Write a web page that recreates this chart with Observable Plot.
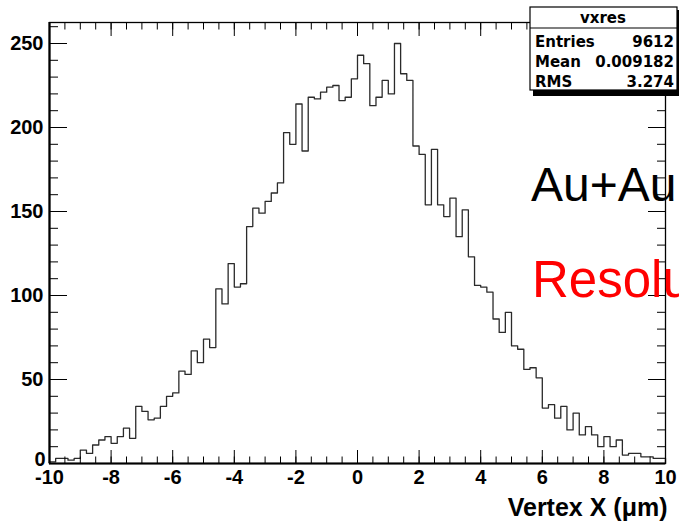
<!DOCTYPE html>
<html><head><meta charset="utf-8">
<script src="https://cdn.jsdelivr.net/npm/d3@7"></script>
<script src="https://cdn.jsdelivr.net/npm/@observablehq/plot@0.6"></script>
<style>body{margin:0;background:#fff} #chart{width:679px;height:525px;overflow:hidden}</style>
</head><body><div id="chart"></div>
<script>
// ---- data ----
const histName = "vxres";
const xMin = -10, xMax = 10, binWidth = 0.2;
const counts = [
  1,3,3,2,3,8,6,11,14,16,
  12,16,21,15,34,31,26,27,34,40,
  42,55,53,67,60,74,69,104,95,119,
  105,107,141,152,149,156,161,167,197,190,
  214,186,218,217,221,224,225,216,218,229,
  243,238,213,218,228,220,250,232,228,189,
  184,154,187,154,147,158,135,151,123,106,
  105,102,86,78,90,70,68,56,57,51,
  33,35,27,34,20,30,17,22,17,10,
  16,10,14,5,6,6,4,4,3,3
];
const xTicks = [-10,-8,-6,-4,-2,0,2,4,6,8,10];
const xMinorTicks = [-10,-9.5,-9,-8.5,-8,-7.5,-7,-6.5,-6,-5.5,-5,-4.5,-4,-3.5,-3,-2.5,-2,-1.5,-1,-0.5,0,0.5,1,1.5,2,2.5,3,3.5,4,4.5,5,5.5,6,6.5,7,7.5,8,8.5,9,9.5,10];
const yTicks = [0,50,100,150,200,250];
const yMinorTicks = [0,10,20,30,40,50,60,70,80,90,100,110,120,130,140,150,160,170,180,190,200,210,220,230,240,250,260];
const yMax = 262.5;
const xLabel = "Vertex X (\u03bcm)";
const statLabels = ["Entries", "Mean", "RMS"];
const statValues = ["9612", "0.009182", "3.274"];
const note1 = "Au+Au";
const note2 = "Resolution";

// outline points of the histogram
const pts = [{x: xMin, y: 0}]
  .concat(counts.map((c, i) => ({x: xMin + i * binWidth, y: c})))
  .concat([{x: xMax, y: counts[counts.length - 1]}, {x: xMax, y: 0}]);

const tickFont = {fontSize: 20, fontWeight: "bold", fill: "black", tickFormat: d => String(d)};

const plot = Plot.plot({
  width: 679, height: 525,
  marginLeft: 49, marginRight: 14, marginTop: 22, marginBottom: 62,
  x: {domain: [xMin, xMax]},
  y: {domain: [0, yMax]},
  style: {fontFamily: "'Liberation Sans', Arial, sans-serif", background: "white", color: "black"},
  marks: [
    Plot.line(pts, {x: "x", y: "y", curve: "step-after", stroke: "#2a2a2a", strokeWidth: 1.3}),
    Plot.frame({stroke: "black", strokeWidth: 1.3}),
    Plot.axisX({anchor: "bottom", ticks: xMinorTicks, tickSize: -6.5, fill: "none", label: null}),
    Plot.axisX({anchor: "bottom", ticks: xTicks, tickSize: -13, fill: "none", label: null}),
    Plot.axisX({anchor: "top", ticks: xMinorTicks, tickSize: -6.5, fill: "none", label: null}),
    Plot.axisX({anchor: "top", ticks: xTicks, tickSize: -13, fill: "none", label: null}),
    Plot.axisY({anchor: "left", ticks: yMinorTicks, tickSize: -9, fill: "none", label: null}),
    Plot.axisY({anchor: "left", ticks: yTicks, tickSize: -18, fill: "none", label: null}),
    Plot.axisY({anchor: "right", ticks: yMinorTicks, tickSize: -9, fill: "none", label: null}),
    Plot.axisY({anchor: "right", ticks: yTicks, tickSize: -18, fill: "none", label: null}),
    Plot.axisX({anchor: "bottom", ticks: xTicks, tickSize: 0, tickPadding: 6, label: null, ...tickFont}),
    Plot.axisY({anchor: "left", ticks: yTicks.slice(1), tickSize: 0, tickPadding: 6, label: null, ...tickFont}),
    Plot.text([0], {y: d => d, frameAnchor: "left", dx: -4, dy: -4, textAnchor: "end", lineAnchor: "middle", fontSize: 20, fontWeight: "bold", fill: "black", text: d => String(d)}),
    Plot.ruleX([xMin], {stroke: "black", strokeWidth: 2.2}),
    Plot.ruleY([0], {stroke: "black", strokeWidth: 2.2}),
    Plot.text([xLabel], {frameAnchor: "bottom-right", dx: 2, dy: 44, textAnchor: "end", lineAnchor: "middle", fontSize: 25, fontWeight: "bold", fill: "black"})
  ]
});

// annotations: stat box and notes
const svg = d3.select(plot);
const g = svg.append("g").attr("font-family", "'DejaVu Sans', Verdana, sans-serif").attr("font-weight", "bold").attr("text-anchor", "start");
g.append("rect").attr("x", 533).attr("y", 10).attr("width", 150).attr("height", 86).attr("fill", "black");
g.append("rect").attr("x", 530).attr("y", 7).attr("width", 147).attr("height", 83).attr("fill", "white").attr("stroke", "black").attr("stroke-width", 1.2);
g.append("line").attr("x1", 530).attr("x2", 677).attr("y1", 28).attr("y2", 28).attr("stroke", "black").attr("stroke-width", 1.2);
g.append("text").attr("x", 603).attr("y", 23).attr("text-anchor", "middle").attr("font-size", 15).text(histName);
statLabels.forEach((s, i) => {
  g.append("text").attr("x", 535).attr("y", 47 + i * 20).attr("text-anchor", "start").attr("font-size", 15).text(s);
  g.append("text").attr("x", 674).attr("y", 47 + i * 20).attr("text-anchor", "end").attr("font-size", 15).text(statValues[i]);
});
const n = svg.append("g").attr("font-family", "'Liberation Sans', Arial, sans-serif").attr("text-anchor", "start");
n.append("text").attr("x", 531).attr("y", 201).attr("font-size", 48).attr("fill", "black").text(note1);
n.append("text").attr("x", 532).attr("y", 297).attr("font-size", 51).attr("fill", "red").text(note2);

document.getElementById("chart").appendChild(plot);
</script>
</body></html>
